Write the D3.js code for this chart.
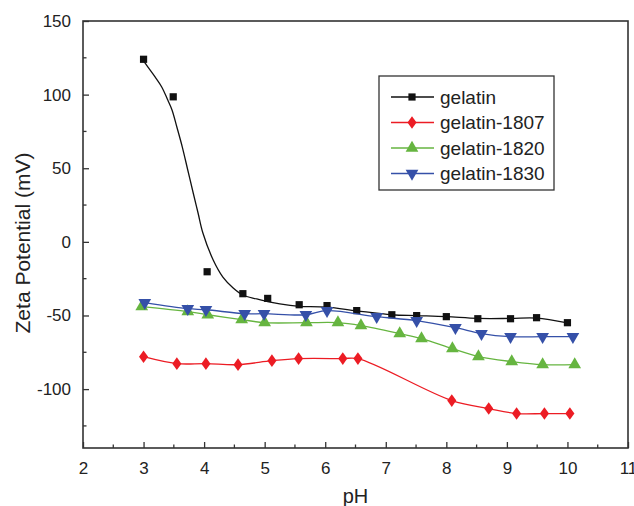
<!DOCTYPE html>
<html lang="en">
<head>
    <meta charset="UTF-8">
    <title>Zeta potential vs pH</title>
    <script src="https://cdn.jsdelivr.net/npm/d3@7"></script>
    <style>
        body { margin: 0; background: white; }
        text { font-family: Arial, "Liberation Sans", sans-serif; fill: #222; }
    </style>
</head>
<body>
    <svg id="chart" width="634" height="506"></svg>

    <script type="text/javascript">

        // data
        const gelatinPH = [3.0, 3.49, 4.05, 4.64, 5.05, 5.57, 6.03, 6.52, 7.1, 7.51, 8.0, 8.52, 9.06, 9.49, 10.0]
        const gelatin = [124, 98.5, -20.3, -35.2, -38.4, -42.7, -43.3, -46.7, -49.5, -50.1, -50.8, -52.2, -52.2, -51.5, -54.9]

        // fitted curve drawn through gelatin (read as points from the picture)
        const gelatinFitPH = [2.98, 3.07, 3.19, 3.3, 3.4, 3.47, 3.55, 3.64, 3.73, 3.82, 3.9, 3.98, 4.15, 4.31, 4.48, 4.64, 4.87, 5.09, 5.42, 5.58, 6.03, 6.52, 7.1, 7.51, 8.0, 8.52, 9.06, 9.49, 10.0]
        const gelatinFit = [124, 118.8, 112, 105.2, 96.3, 89.6, 78, 64.4, 48.8, 33.2, 19.6, 6, -12.3, -23.9, -31.3, -36.1, -38.8, -41, -43.2, -43.8, -44.3, -46.8, -49.5, -50.1, -50.8, -52, -52, -51.8, -55]

        const g1807PH = [3.0, 3.55, 4.03, 4.56, 5.12, 5.56, 6.29, 6.54, 8.09, 8.70, 9.16, 9.62, 10.04]
        const g1807 = [-78, -82.7, -82.7, -83.4, -80.7, -79.3, -79.3, -79.3, -107.8, -113.2, -116.6, -116.6, -116.6]

        const g1820PH = [2.97, 3.73, 4.06, 4.62, 5.0, 5.69, 6.21, 6.59, 7.23, 7.59, 8.10, 8.53, 9.08, 9.59, 10.12]
        const g1820 = [-44.0, -47.4, -49.5, -52.8, -54.9, -54.9, -54.9, -56.9, -62.3, -65.7, -72.5, -77.9, -81.3, -83.4, -83.4]

        const g1830PH = [3.02, 3.73, 4.03, 4.67, 4.99, 5.68, 6.03, 6.85, 7.51, 8.15, 8.58, 9.06, 9.59, 10.09]
        const g1830 = [-41.3, -45.4, -46.1, -48.8, -48.8, -49.5, -46.7, -50.8, -53.5, -58.3, -62.3, -64.4, -64.4, -64.4]

        const seriesNames = ['gelatin', 'gelatin-1807', 'gelatin-1820', 'gelatin-1830']
        const xTicks = [2, 3, 4, 5, 6, 7, 8, 9, 10, 11]
        const yTicks = [-100, -50, 0, 50, 100, 150]

        const series = [
            { name: seriesNames[0], x: gelatinPH, y: gelatin, lx: gelatinFitPH, ly: gelatinFit, color: '#111', sym: d3.symbolSquare, size: 52, rot: 0 },
            { name: seriesNames[1], x: g1807PH, y: g1807, color: '#ec1c24', sym: d3.symbolDiamond, size: 46, rot: 0, sx: 1.25 },
            { name: seriesNames[2], x: g1820PH, y: g1820, color: '#66b540', sym: d3.symbolTriangle, size: 70, rot: 0 },
            { name: seriesNames[3], x: g1830PH, y: g1830, color: '#3550a8', sym: d3.symbolTriangle, size: 70, rot: 180 }
        ]

        const svg = d3.select('#chart')
        const mLeft = 83, mRight = 628, mTop = 21, mBottom = 448

        const x = d3.scaleLinear().domain([2, 11]).range([mLeft, mRight])
        const y = d3.scaleLinear().domain([-140, 150]).range([mBottom, mTop])

        // inward ticks, plain hyphen for negatives
        const xAxis = d3.axisBottom(x).tickValues(xTicks).tickFormat(d => String(d))
            .tickSizeInner(-6).tickSizeOuter(0).tickPadding(12)
        const yAxis = d3.axisLeft(y).tickValues(yTicks).tickFormat(d => String(d))
            .tickSizeInner(-6).tickSizeOuter(0).tickPadding(12)

        const gx = svg.append('g').attr('transform', `translate(0,${mBottom})`).call(xAxis)
        const gy = svg.append('g').attr('transform', `translate(${mLeft},0)`).call(yAxis)

        ;[gx, gy].forEach(g => {
            g.select('.domain').remove()
            g.selectAll('line').attr('stroke', '#333').attr('stroke-width', 1.3)
            g.selectAll('text').style('font-size', '17px').attr('fill', '#222')
        })
        gx.selectAll('text').attr('dy', '0.85em')

        // minor ticks
        d3.range(2.5, 11, 1).forEach(v => {
            svg.append('line').attr('x1', x(v)).attr('x2', x(v))
                .attr('y1', mBottom).attr('y2', mBottom - 3.5)
                .attr('stroke', '#333').attr('stroke-width', 1.3)
        })
        d3.range(-125, 150, 50).forEach(v => {
            svg.append('line').attr('x1', mLeft).attr('x2', mLeft + 3.5)
                .attr('y1', y(v)).attr('y2', y(v))
                .attr('stroke', '#333').attr('stroke-width', 1.3)
        })

        // frame
        svg.append('rect')
            .attr('x', mLeft).attr('y', mTop)
            .attr('width', mRight - mLeft).attr('height', mBottom - mTop)
            .attr('fill', 'none').attr('stroke', '#333').attr('stroke-width', 1.6)

        const spline = d3.line().curve(d3.curveCatmullRom.alpha(0.5))

        series.forEach(s => {
            const lx = s.lx || s.x, ly = s.ly || s.y
            svg.append('path')
                .attr('d', spline(lx.map((v, j) => [x(v), y(ly[j])])))
                .attr('fill', 'none').attr('stroke', s.color).attr('stroke-width', 1.3)

            svg.append('g').selectAll('path')
                .data(s.x.map((v, j) => [v, s.y[j]]))
                .join('path')
                .attr('d', d3.symbol().type(s.sym).size(s.size))
                .attr('transform', p => `translate(${x(p[0])},${y(p[1])}) rotate(${s.rot})` + (s.sx ? ` scale(${s.sx},1)` : ''))
                .attr('fill', s.color)
        })

        // legend
        const leg = svg.append('g')
        leg.append('rect').attr('x', 379).attr('y', 76).attr('width', 175).attr('height', 114)
            .attr('fill', 'white').attr('stroke', '#333').attr('stroke-width', 1.3)

        series.forEach((s, i) => {
            const ly = 97 + i * 25.5
            leg.append('line').attr('x1', 391).attr('x2', 434).attr('y1', ly).attr('y2', ly)
                .attr('stroke', s.color).attr('stroke-width', 1.3)
            leg.append('path')
                .attr('d', d3.symbol().type(s.sym).size(s.size))
                .attr('transform', `translate(412,${ly}) rotate(${s.rot})` + (s.sx ? ` scale(${s.sx},1)` : ''))
                .attr('fill', s.color)
            leg.append('text').attr('x', 440).attr('y', ly).attr('dy', '0.36em')
                .style('font-size', '19px').text(s.name)
        })

        // axis titles
        svg.append('text')
            .attr('x', x(6.5)).attr('y', 503)
            .attr('text-anchor', 'middle')
            .style('font-size', '20px')
            .text('pH')

        svg.append('text')
            .attr('transform', `translate(30,243) rotate(-90)`)
            .attr('text-anchor', 'middle')
            .style('font-size', '21px')
            .text('Zeta Potential (mV)')

    </script>
</body>
</html>
